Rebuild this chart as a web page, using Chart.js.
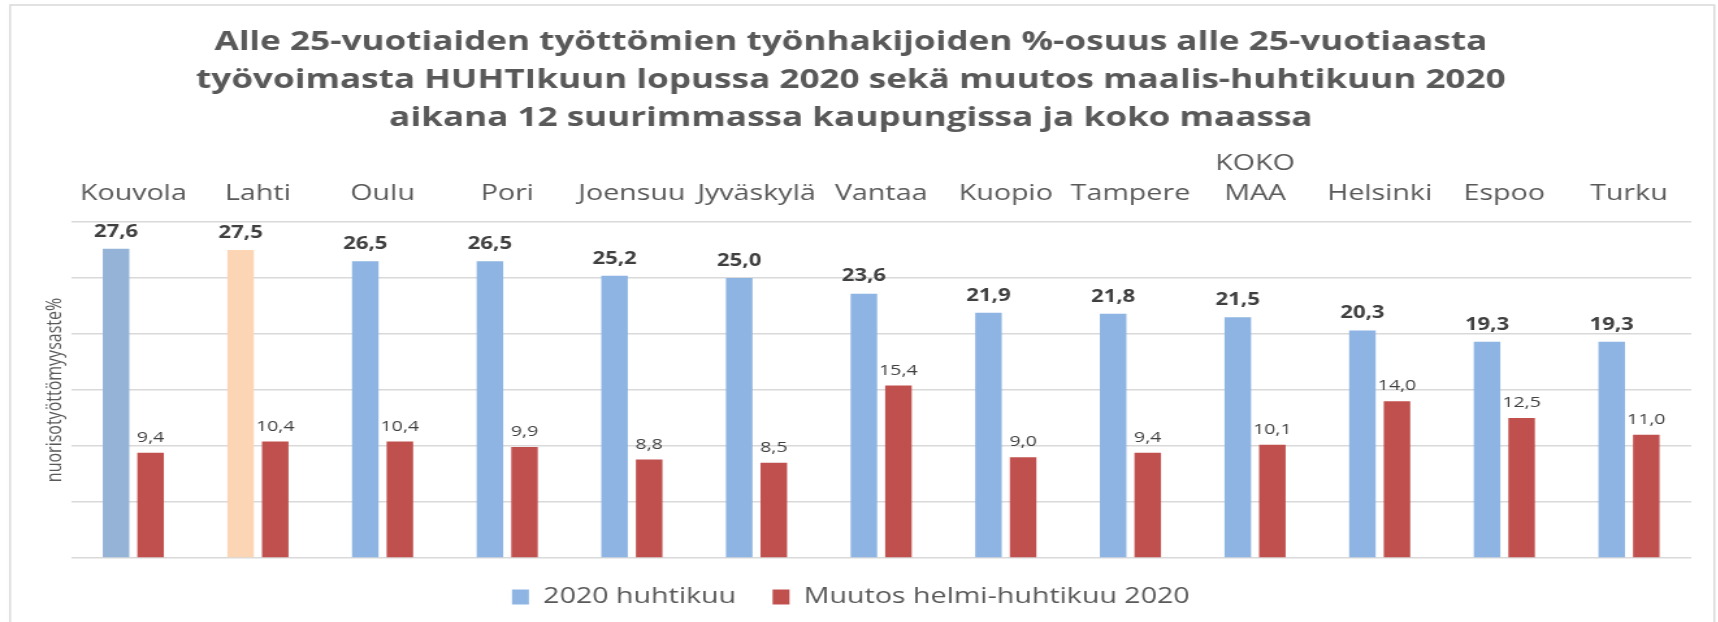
<!DOCTYPE html>
<html>
<head>
<meta charset="utf-8">
<script src="https://cdn.jsdelivr.net/npm/chart.js@4"></script>
<style>
  html, body { margin: 0; padding: 0; background: #fff; overflow: hidden; }
  #wrap { width: 1718px; height: 622px; position: relative; }
  /* the original picture is stretched sideways, so draw narrower and stretch */
  #chart { position: absolute; left: 0; top: 0; transform-origin: 0 0; transform: scaleX(1.3); }
</style>
</head>
<body>
<div id="wrap"><canvas id="chart" width="1322" height="622"></canvas></div>
<script>
// kaupungit (järjestys kuten kuvassa)
const categories = ["Kouvola", "Lahti", "Oulu", "Pori", "Joensuu", "Jyväskylä", "Vantaa",
  "Kuopio", "Tampere", ["KOKO", "MAA"], "Helsinki", "Espoo", "Turku"];
// 2020 huhtikuu
const april2020 = [27.6, 27.5, 26.5, 26.5, 25.2, 25.0, 23.6, 21.9, 21.8, 21.5, 20.3, 19.3, 19.3];
// muutos helmi-huhtikuu 2020
const change = [9.4, 10.4, 10.4, 9.9, 8.8, 8.5, 15.4, 9.0, 9.4, 10.1, 14.0, 12.5, 11.0];
const seriesNames = ["2020 huhtikuu", "Muutos helmi-huhtikuu 2020"];
const titleLines = [
  "Alle 25-vuotiaiden työttömien työnhakijoiden %-osuus alle 25-vuotiaasta",
  "työvoimasta HUHTIkuun lopussa 2020 sekä muutos maalis-huhtikuun 2020",
  "aikana 12 suurimmassa kaupungissa ja koko maassa"
];
const yTitle = "nuorisotyöttömyysaste%";

const blue = "#8db4e2";
const red = "#c0504d";
// Kouvola ja Lahti on korostettu eri värillä
const blueColors = april2020.map((v, i) => i === 0 ? "#95b3d7" : (i === 1 ? "#fcd5b5" : blue));

const FONT = "'Open Sans', sans-serif";

// arvot pylväiden päälle
const valueLabels = {
  id: "valueLabels",
  afterDatasetsDraw(chart) {
    const ctx = chart.ctx;
    ctx.save();
    ctx.textAlign = "center";
    ctx.textBaseline = "middle";
    chart.data.datasets.forEach((ds, di) => {
      const meta = chart.getDatasetMeta(di);
      ctx.fillStyle = "#404040";
      ctx.font = di === 0 ? "bold 17px " + FONT : "15px " + FONT;
      const off = di === 0 ? 17 : 15;
      meta.data.forEach((bar, i) => {
        ctx.fillText(ds.data[i].toFixed(1).replace(".", ","), bar.x, bar.y - off);
      });
    });
    ctx.restore();
  }
};

// kehys koko kaavion ympärille
const frame = {
  id: "frame",
  beforeDraw(chart) {
    const ctx = chart.ctx;
    ctx.save();
    ctx.strokeStyle = "#d9d9d9";
    ctx.lineWidth = 1.5;
    ctx.strokeRect(7.7, 5, chart.width - 11, chart.height + 10);
    ctx.restore();
  }
};

new Chart(document.getElementById("chart"), {
  type: "bar",
  data: {
    labels: categories,
    datasets: [
      {
        label: seriesNames[0],
        data: april2020,
        backgroundColor: blueColors,
        categoryPercentage: 0.555,
        barPercentage: 0.767
      },
      {
        label: seriesNames[1],
        data: change,
        backgroundColor: red,
        categoryPercentage: 0.555,
        barPercentage: 0.767
      }
    ]
  },
  options: {
    responsive: false,
    animation: false,
    layout: { padding: { left: 8, right: 21, top: 0, bottom: 4 } },
    plugins: {
      title: {
        display: true,
        text: titleLines,
        color: "#595959",
        font: { family: FONT, size: 27, weight: "bold", lineHeight: 1.407 },
        padding: { top: 23, bottom: 9 }
      },
      legend: {
        position: "bottom",
        labels: {
          generateLabels(chart) {
            return chart.data.datasets.map((ds, i) => ({
              text: ds.label,
              fillStyle: i === 0 ? blue : red,
              strokeStyle: i === 0 ? blue : red,
              lineWidth: 0,
              datasetIndex: i,
              fontColor: "#595959"
            }));
          },
          boxWidth: 13,
          boxHeight: 15,
          padding: 28,
          color: "#595959",
          font: { family: FONT, size: 22 }
        }
      },
      tooltip: { enabled: false }
    },
    scales: {
      x: {
        position: "top",
        grid: { display: false, drawTicks: false },
        border: { display: false },
        ticks: {
          autoSkip: false,
          maxRotation: 0,
          minRotation: 0,
          padding: 13,
          color: "#595959",
          font: { family: FONT, size: 22, lineHeight: 1.36 }
        },
        afterFit(scale) { scale.height = 76; }
      },
      y: {
        min: 0,
        max: 30,
        ticks: { display: false, stepSize: 5 },
        grid: { color: "#d9d9d9", lineWidth: 1.6, drawTicks: false },
        border: { display: false },
        title: {
          display: true,
          text: yTitle,
          color: "#595959",
          font: { family: FONT, size: 16 },
          padding: { top: 25, bottom: 0 }
        },
        afterFit(scale) { scale.width = 46.6; }
      }
    }
  },
  plugins: [valueLabels, frame]
});
</script>
</body>
</html>
